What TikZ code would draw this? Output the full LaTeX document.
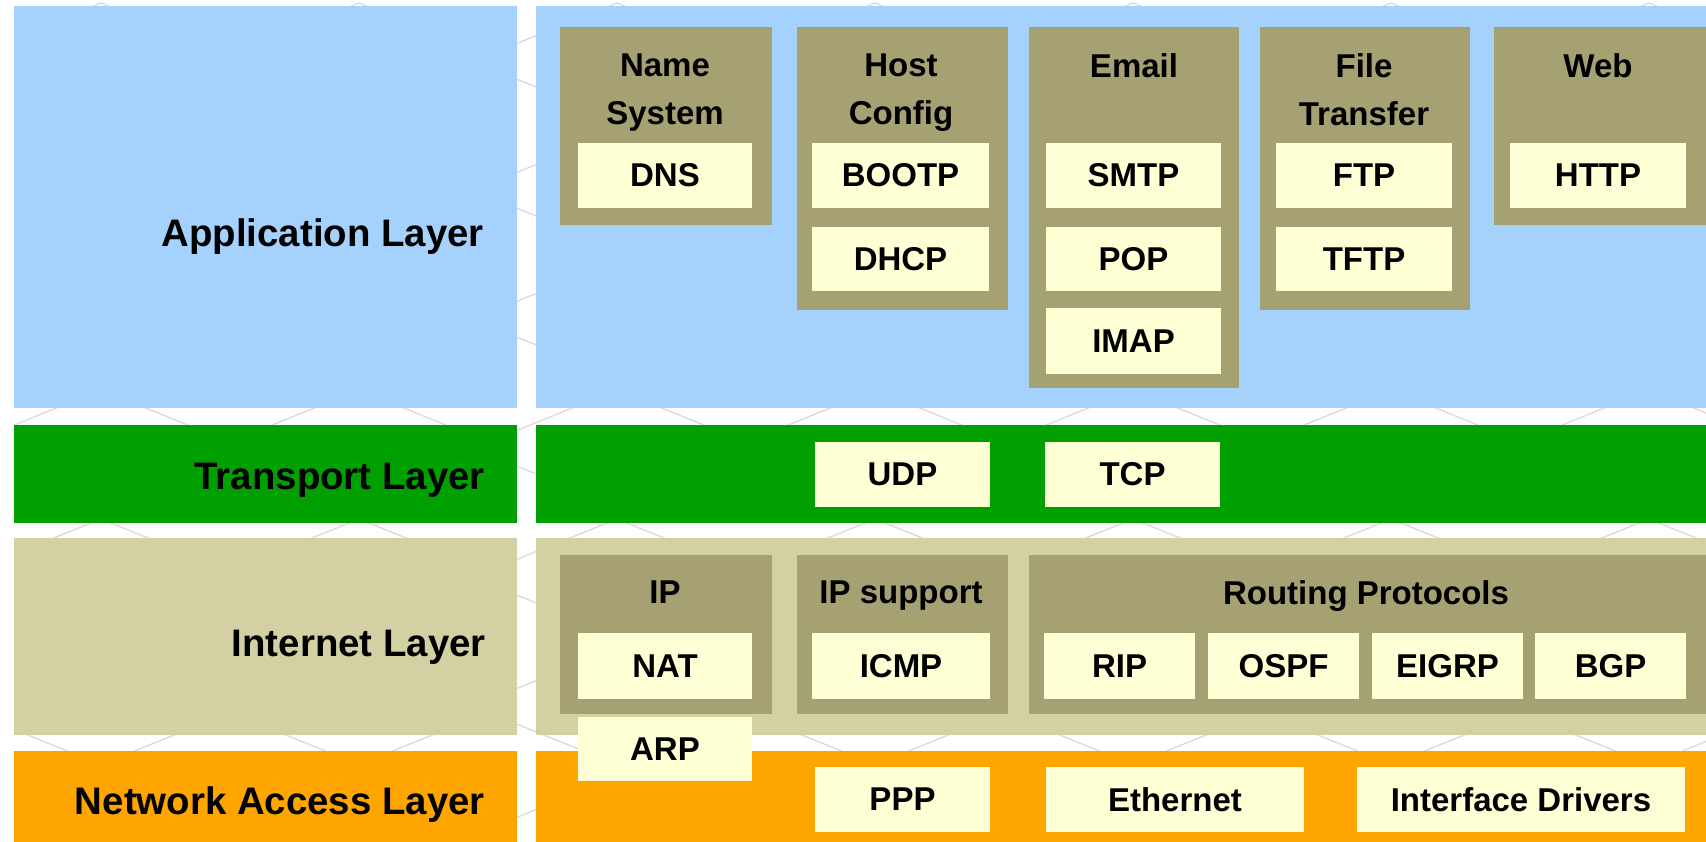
\documentclass[tikz,border=0pt]{standalone}
\usepackage{fontspec}
\setmainfont{Liberation Sans}

\definecolor{appblue}{HTML}{A4D2FC}
\definecolor{transgreen}{HTML}{00A000}
\definecolor{netkhaki}{HTML}{D3D1A4}
\definecolor{accorange}{HTML}{FFA500}
\definecolor{groupolive}{HTML}{A5A173}
\definecolor{protocream}{HTML}{FFFFD5}
\definecolor{hexgray}{HTML}{DADADA}

% box from corner coordinates: style, name, x1, y1, x2, y2, text
\newcommand\cornerbox[7]{%
  \node[#1, minimum width={(#5)-(#3)}, minimum height={(#6)-(#4)}]
    (#2) at ({((#3)+(#5))/2},{((#4)+(#6))/2}) {#7};}

\begin{document}
\begin{tikzpicture}[x=1pt, y=-1pt,
  plainrect/.style={rectangle, draw=none, inner sep=0pt, outer sep=0pt},
  layerpanel/.style={plainrect},
  groupbox/.style={plainrect, fill=groupolive},
  protobox/.style={plainrect, fill=protocream,
    font=\fontsize{33}{40}\selectfont\bfseries},
  grouphead/.style={inner sep=0pt, anchor=north, align=center,
    font=\fontsize{33}{48}\selectfont\bfseries},
  layerlabel/.style={inner sep=0pt, anchor=base east,
    font=\fontsize{38.4}{46}\selectfont\bfseries},
  hexline/.style={draw=hexgray, line width=1.3pt}
]
\useasboundingbox (0,0) rectangle (1706,842);
\clip (0,0) rectangle (1706,842);
\fill[white] (0,0) rectangle (1706,842);

% faint zigzag texture behind the panels (not in the left margin)
\begin{scope}
  \clip (14,0) rectangle (1706,842);
  \foreach \k in {0,...,13}{
    \pgfmathsetmacro\rowy{3+64.5*\k}
    \pgfmathsetmacro\rowx{-157+129*mod(\k,2)}
    \draw[hexline] (\rowx,\rowy) \foreach \j in {1,...,8}{ -- ++(129,52) -- ++(129,-52) };
  }
\end{scope}

% layer panels: label column and content column
\cornerbox{layerpanel, fill=appblue}{appL}{14}{6}{517}{408}{}
\cornerbox{layerpanel, fill=appblue}{appR}{536}{6}{1720}{408}{}
\cornerbox{layerpanel, fill=transgreen}{trnL}{14}{425}{517}{523}{}
\cornerbox{layerpanel, fill=transgreen}{trnR}{536}{425}{1720}{523}{}
\cornerbox{layerpanel, fill=netkhaki}{intL}{14}{538}{517}{735}{}
\cornerbox{layerpanel, fill=netkhaki}{intR}{536}{538}{1720}{735}{}
\cornerbox{layerpanel, fill=accorange}{accL}{14}{751}{517}{860}{}
\cornerbox{layerpanel, fill=accorange}{accR}{536}{751}{1720}{860}{}

% layer names
\node[layerlabel] (appT) at (484,247) {Application Layer};
\node[layerlabel] (trnT) at (485,489) {Transport Layer};
\node[layerlabel] (intT) at (486,656) {Internet Layer};
\node[layerlabel] (accT) at (485,814) {Network Access Layer};

% application layer groups
\cornerbox{groupbox}{nsG}{560}{27}{772}{225}{}
\cornerbox{groupbox}{hcG}{797}{27}{1008}{310}{}
\cornerbox{groupbox}{emG}{1029}{27}{1239}{388}{}
\cornerbox{groupbox}{ftG}{1260}{27}{1470}{310}{}
\cornerbox{groupbox}{wbG}{1494}{27}{1720}{225}{}

\node[grouphead] (nsH) at (665,53.4) {Name\\System};
\node[grouphead] (hcH) at (901,53.4) {Host\\Config};
\node[grouphead] (emH) at (1134,53.4) {Email};
\node[grouphead] (ftH) at (1364,53.4) {File\\Transfer};
\node[grouphead] (wbH) at (1598,53.4) {Web};

\cornerbox{protobox}{dns}{578}{143}{752}{208}{DNS}
\cornerbox{protobox}{bootp}{812}{143}{989}{208}{BOOTP}
\cornerbox{protobox}{dhcp}{812}{227}{989}{291}{DHCP}
\cornerbox{protobox}{smtp}{1046}{143}{1221}{208}{SMTP}
\cornerbox{protobox}{pop}{1046}{227}{1221}{291}{POP}
\cornerbox{protobox}{imap}{1046}{308}{1221}{374}{IMAP}
\cornerbox{protobox}{ftp}{1276}{143}{1452}{208}{FTP}
\cornerbox{protobox}{tftp}{1276}{227}{1452}{291}{TFTP}
\cornerbox{protobox}{http}{1510}{143}{1686}{208}{HTTP}

% transport layer
\cornerbox{protobox}{udp}{815}{442}{990}{507}{UDP}
\cornerbox{protobox}{tcp}{1045}{442}{1220}{507}{TCP}

% internet layer groups
\cornerbox{groupbox}{ipG}{560}{555}{772}{714}{}
\cornerbox{groupbox}{ipsG}{797}{555}{1008}{714}{}
\cornerbox{groupbox}{rtG}{1029}{555}{1720}{714}{}

\node[grouphead] (ipH) at (665,580.4) {IP};
\node[grouphead] (ipsH) at (901,580.4) {IP support};
\node[grouphead] (rtH) at (1366,580.4) {Routing Protocols};

\cornerbox{protobox}{nat}{578}{633}{752}{699}{NAT}
\cornerbox{protobox}{icmp}{812}{633}{990}{699}{ICMP}
\cornerbox{protobox}{rip}{1044}{633}{1195}{699}{RIP}
\cornerbox{protobox}{ospf}{1208}{633}{1359}{699}{OSPF}
\cornerbox{protobox}{eigrp}{1372}{633}{1523}{699}{EIGRP}
\cornerbox{protobox}{bgp}{1535}{633}{1686}{699}{BGP}

% ARP straddles the internet and network access layers
\cornerbox{protobox}{arp}{578}{717}{752}{781}{ARP}

% network access layer
\cornerbox{protobox}{ppp}{815}{767}{990}{832}{PPP}
\cornerbox{protobox}{eth}{1046}{767}{1304}{832}{Ethernet}
\cornerbox{protobox}{ifd}{1357}{767}{1685}{832}{Interface Drivers}
\end{tikzpicture}
\end{document}
